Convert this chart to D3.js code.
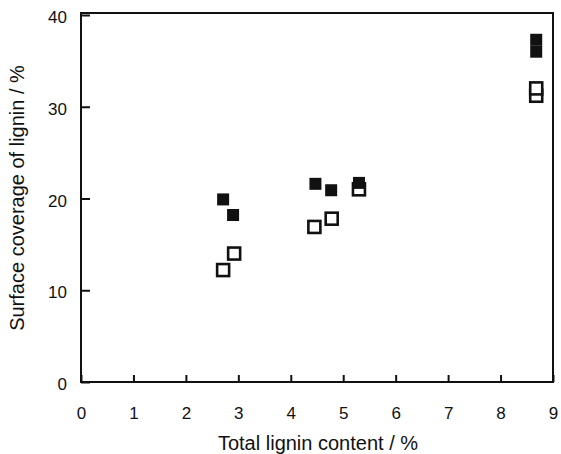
<!DOCTYPE html>
<html>
<head>
<meta charset="utf-8">
<script src="https://cdn.jsdelivr.net/npm/d3@7"></script>
<style>
  html, body { margin: 0; padding: 0; background: #fff; }
  svg { display: block; font-family: "Liberation Sans", Arial, sans-serif; }
</style>
</head>
<body>
<svg id="chart" width="561" height="454"></svg>
<script>
// Total lignin content (%) and surface coverage of lignin (%)
const filledX = [2.71, 2.9, 4.47, 4.77, 5.3, 8.68, 8.68];
const filledY = [19.9, 18.2, 21.6, 20.9, 21.7, 37.3, 36.0];
const openX = [2.71, 2.92, 4.45, 4.78, 5.3, 8.68, 8.68];
const openY = [12.2, 14.0, 16.9, 17.8, 21.0, 31.2, 32.0];
const xTicks = [0, 1, 2, 3, 4, 5, 6, 7, 8, 9];
const yTicks = [0, 10, 20, 30, 40];

const svg = d3.select("#chart");
const plotLeft = 81, plotRight = 553, plotTop = 15, plotBottom = 382;
const frameTop = 13;

const x = d3.scaleLinear().domain([0, 9]).range([plotLeft, plotRight]);
const y = d3.scaleLinear().domain([0, 40]).range([plotBottom, plotTop]);

// frame
svg.append("rect")
  .attr("x", plotLeft).attr("y", frameTop)
  .attr("width", plotRight - plotLeft).attr("height", plotBottom - frameTop)
  .attr("fill", "none").attr("stroke", "#111").attr("stroke-width", 2);

// x axis: inward ticks
const xAxis = svg.append("g")
  .attr("transform", `translate(0,${plotBottom})`)
  .call(d3.axisBottom(x).tickValues(xTicks).tickSize(-7).tickPadding(25).tickFormat(d3.format("d")));
xAxis.select(".domain").remove();
xAxis.selectAll("line").attr("stroke", "#111").attr("stroke-width", 2);
xAxis.selectAll("text").attr("font-size", 17).attr("fill", "#111")
  .attr("font-family", "Liberation Sans, Arial, sans-serif");

// y axis: inward ticks
const yAxis = svg.append("g")
  .attr("transform", `translate(${plotLeft},0)`)
  .call(d3.axisLeft(y).tickValues(yTicks).tickSize(-9).tickPadding(14).tickFormat(d3.format("d")));
yAxis.select(".domain").remove();
yAxis.selectAll("line").attr("stroke", "#111").attr("stroke-width", 2);
yAxis.selectAll("text").attr("font-size", 17).attr("fill", "#111").attr("dy", "0.45em")
  .attr("font-family", "Liberation Sans, Arial, sans-serif");

// open squares
const openData = openX.map((v, i) => [v, openY[i]]);
svg.append("g").selectAll("rect")
  .data(openData).join("rect")
  .attr("x", d => x(d[0]) - 6).attr("y", d => y(d[1]) - 6)
  .attr("width", 12).attr("height", 12)
  .attr("fill", "#fff").attr("stroke", "#111").attr("stroke-width", 2.6);

// filled squares
const filledData = filledX.map((v, i) => [v, filledY[i]]);
svg.append("g").selectAll("rect")
  .data(filledData).join("rect")
  .attr("x", d => x(d[0]) - 6).attr("y", d => y(d[1]) - 6)
  .attr("width", 12).attr("height", 12)
  .attr("fill", "#111");

// axis titles
svg.append("text")
  .attr("x", 318).attr("y", 450)
  .attr("text-anchor", "middle").attr("font-size", 20).attr("fill", "#111")
  .text("Total lignin content / %");

svg.append("text")
  .attr("transform", `translate(24,198) rotate(-90)`)
  .attr("text-anchor", "middle").attr("font-size", 20).attr("fill", "#111")
  .text("Surface coverage of lignin / %");
</script>
</body>
</html>
